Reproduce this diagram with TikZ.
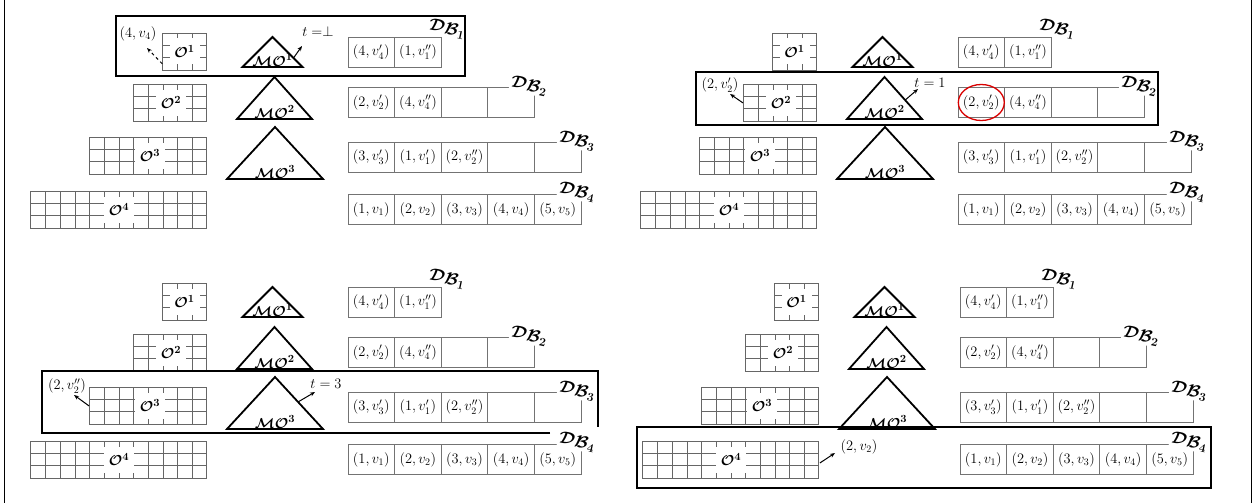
\documentclass[tikz,border=0pt]{standalone}
\usepackage{amsmath,bm}
\usetikzlibrary{calc,arrows.meta}
\tikzset{
  gline/.style={draw=black!60, line width=0.8pt},
  gridbox/.style={draw=black!60, line width=0.8pt, inner sep=0pt, anchor=north east},
  olabel/.style={fill=white, inner sep=0pt, minimum width=30pt, minimum height=26pt, font=\fontsize{15}{17}\selectfont},
  tri/.style={draw=black, line width=1.8pt, line join=miter},
  molabel/.style={inner sep=0pt, font=\fontsize{15}{17}\selectfont},
  cell/.style={draw=black!55, line width=0.8pt, minimum width=46.6pt, minimum height=30pt, inner sep=0pt, font=\fontsize{14}{16}\selectfont, text=black},
  dblabel/.style={fill=white, inner sep=1pt, rotate=-12, font=\fontsize{17}{19}\selectfont},
  txt/.style={inner sep=1pt, font=\fontsize{14.5}{16}\selectfont},
  arr/.style={-{Stealth[length=5pt,width=4pt]}, line width=1pt},
  hl/.style={draw=black, line width=2.2pt},
  frameline/.style={draw=black, line width=1pt},
  redring/.style={draw=red!85!black, line width=1.3pt},
}
\newcommand\ogrid[5]{%
  \pgfmathsetmacro\ogw{#3*14.65}%
  \pgfmathtruncatemacro\ogn{#3-1}%
  \node[gridbox, minimum width=\ogw pt, minimum height=37pt] (#1-g#2) at (207,#4) {};
  \foreach \i in {1,...,\ogn} \draw[gline] (207-\i*14.65,#4) -- ++(0,37);
  \foreach \j in {1,2} \draw[gline] (207-\ogw,#4+\j*12.333) -- (207,#4+\j*12.333);
  \node[olabel] (#1-o#2) at (#5,#4+18.5) {$\bm{\mathcal{O}}^{\bm{#2}}$};
}
\newcommand\otri[6]{%
  \coordinate (#1-t#2a) at (#3,#4);
  \coordinate (#1-t#2l) at (#3-#5,#6);
  \coordinate (#1-t#2r) at (#3+#5,#6);
  \draw[tri] (#1-t#2a) -- (#1-t#2r) -- (#1-t#2l) -- cycle;
  \node[molabel] (#1-m#2) at (#3,#6-7) {$\bm{\mathcal{M}\mathcal{O}}^{\bm{#2}}$};
}
\newcommand\basepanel[1]{%
  \ogrid{#1}{1}{3}{33}{184.6}
  \ogrid{#1}{2}{5}{84}{171}
  \ogrid{#1}{3}{8}{137}{150}
  \ogrid{#1}{4}{12}{191}{119}
  \otri{#1}{1}{272.5}{37}{30}{67}
  \otri{#1}{2}{274.5}{77}{37.5}{119}
  \otri{#1}{3}{275}{127}{48}{179}
  \foreach \c [count=\k] in {{$(4,v_4')$},{$(1,v_1'')$}}
    \node[cell] (#1-d1c\k) at (348+\k*46.6-23.3,52) {\c};
  \foreach \c [count=\k] in {{$(2,v_2')$},{$(4,v_4'')$},{},{}}
    \node[cell] (#1-d2c\k) at (348+\k*46.6-23.3,102.5) {\c};
  \foreach \c [count=\k] in {{$(3,v_3')$},{$(1,v_1')$},{$(2,v_2'')$},{},{}}
    \node[cell] (#1-d3c\k) at (348+\k*46.6-23.3,157) {\c};
  \foreach \c [count=\k] in {{$(1,v_1)$},{$(2,v_2)$},{$(3,v_3)$},{$(4,v_4)$},{$(5,v_5)$}}
    \node[cell] (#1-d4c\k) at (348+\k*46.6-23.3,209.5) {\c};
  \node[dblabel] (#1-db1) at (447,29) {$\bm{\mathcal{D}\mathcal{B}}_{\bm{1}}$};
  \node[dblabel] (#1-db2) at (529,86) {$\bm{\mathcal{D}\mathcal{B}}_{\bm{2}}$};
  \node[dblabel] (#1-db3) at (577,141) {$\bm{\mathcal{D}\mathcal{B}}_{\bm{3}}$};
  \node[dblabel] (#1-db4) at (577,192) {$\bm{\mathcal{D}\mathcal{B}}_{\bm{4}}$};
}
\begin{document}
\begin{tikzpicture}[x=1pt,y=-1pt]
\useasboundingbox (0,0) rectangle (1255,503);
\coordinate (fl0) at (4,0); \coordinate (fl1) at (4,503);
\coordinate (fr0) at (1251,0); \coordinate (fr1) at (1251,503);
\draw[frameline] (fl0) -- (fl1);
\draw[frameline] (fr0) -- (fr1);

% panel 1
\begin{scope}
  \basepanel{a}
  \node[txt] (a-lab) at (138,34) {$(4,v_4)$};
  \coordinate (a-labtip) at (147,48);
  \draw[arr,dashed] ($(a-g1.south west)+(0,-7)$) -- (a-labtip);
  \node[txt] (a-t) at (318,32) {$t=\perp$};
  \coordinate (a-ttip) at (302,46);
  \draw[arr] ($(a-t1a)!0.7!(a-t1r)$) -- (a-ttip);
  \draw[hl] (116,16) rectangle (465,76);
\end{scope}

% panel 2
\begin{scope}[shift={(610,0)}]
  \basepanel{b}
  \draw[redring] (b-d2c1.center) ellipse [x radius=23, y radius=18];
  \node[txt] (b-lab) at (110,85) {$(2,v_2')$};
  \coordinate (b-labtip) at (120,94);
  \draw[arr] (b-g2.west) -- (b-labtip);
  \node[txt] (b-t) at (320,83) {$t=1$};
  \coordinate (b-ttip) at (308,89);
  \draw[arr] ($(b-t2a)!0.55!(b-t2r)$) -- (b-ttip);
  \draw[hl] (86,72) rectangle (548,125);
\end{scope}

% panel 3
\begin{scope}[shift={(0,250)}]
  \basepanel{c}
  \node[txt] (c-lab) at (67,136) {$(2,v_2'')$};
  \coordinate (c-labtip) at (74,145);
  \draw[arr] (c-g3.west) -- (c-labtip);
  \node[txt] (c-t) at (326,134) {$t=3$};
  \coordinate (c-ttip) at (315,142);
  \draw[arr] ($(c-t3a)!0.48!(c-t3r)$) -- (c-ttip);
  \draw[hl] (550,183) -- (42,183) -- (42,121) -- (598,121) -- (598,177);
\end{scope}

% panel 4
\begin{scope}[shift={(612,250)}]
  \basepanel{d}
  \node[txt] (d-lab) at (247,197) {$(2,v_2)$};
  \coordinate (d-labtip) at (223,203);
  \draw[arr] ($(d-g4.east)+(1,3)$) -- (d-labtip);
  \draw[hl] (25,177) rectangle (599,238);
\end{scope}
\end{tikzpicture}
\end{document}
